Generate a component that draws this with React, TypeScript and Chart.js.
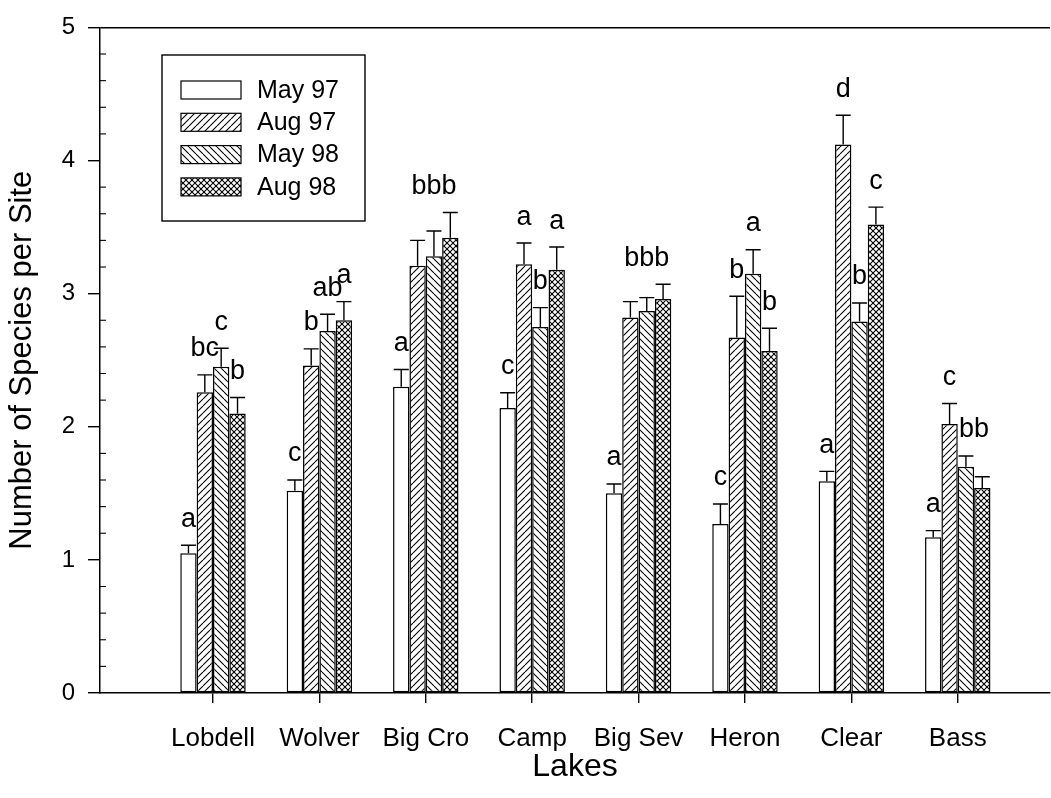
import React, { useEffect, useRef } from 'react';
import { Chart, registerables } from 'chart.js';

Chart.register(...registerables);

// ---------- data ----------
const lakes = ['Lobdell', 'Wolver', 'Big Cro', 'Camp', 'Big Sev', 'Heron', 'Clear', 'Bass'];
const seriesNames = ['May 97', 'Aug 97', 'May 98', 'Aug 98'];

const may97 = [1.05, 1.52, 2.30, 2.14, 1.50, 1.27, 1.59, 1.17];
const aug97 = [2.26, 2.46, 3.21, 3.22, 2.82, 2.67, 4.12, 2.02];
const may98 = [2.45, 2.72, 3.28, 2.75, 2.87, 3.15, 2.79, 1.70];
const aug98 = [2.10, 2.80, 3.42, 3.18, 2.96, 2.57, 3.52, 1.54];

const may97Err = [0.06, 0.08, 0.13, 0.115, 0.07, 0.15, 0.075, 0.05];
const aug97Err = [0.13, 0.125, 0.19, 0.16, 0.12, 0.31, 0.22, 0.155];
const may98Err = [0.14, 0.125, 0.19, 0.145, 0.10, 0.18, 0.14, 0.08];
const aug98Err = [0.12, 0.14, 0.19, 0.17, 0.11, 0.17, 0.13, 0.085];

const yTickValues = [0, 1, 2, 3, 4, 5];

// significance letters: lake index, first/last series index covered, text
const sigLetters = [
  { lake: 0, from: 0, to: 0, text: 'a' },
  { lake: 0, from: 1, to: 1, text: 'bc' },
  { lake: 0, from: 2, to: 2, text: 'c' },
  { lake: 0, from: 3, to: 3, text: 'b' },
  { lake: 1, from: 0, to: 0, text: 'c' },
  { lake: 1, from: 1, to: 1, text: 'b' },
  { lake: 1, from: 2, to: 2, text: 'ab' },
  { lake: 1, from: 3, to: 3, text: 'a' },
  { lake: 2, from: 0, to: 0, text: 'a' },
  { lake: 2, from: 1, to: 3, text: 'bbb' },
  { lake: 3, from: 0, to: 0, text: 'c' },
  { lake: 3, from: 1, to: 1, text: 'a' },
  { lake: 3, from: 2, to: 2, text: 'b' },
  { lake: 3, from: 3, to: 3, text: 'a' },
  { lake: 4, from: 0, to: 0, text: 'a' },
  { lake: 4, from: 1, to: 3, text: 'bbb' },
  { lake: 5, from: 0, to: 0, text: 'c' },
  { lake: 5, from: 1, to: 1, text: 'b' },
  { lake: 5, from: 2, to: 2, text: 'a' },
  { lake: 5, from: 3, to: 3, text: 'b' },
  { lake: 6, from: 0, to: 0, text: 'a' },
  { lake: 6, from: 1, to: 1, text: 'd' },
  { lake: 6, from: 2, to: 2, text: 'b' },
  { lake: 6, from: 3, to: 3, text: 'c' },
  { lake: 7, from: 0, to: 0, text: 'a' },
  { lake: 7, from: 1, to: 1, text: 'c' },
  { lake: 7, from: 2, to: 3, text: 'bb' },
];

const seriesValues = [may97, aug97, may98, aug98];
const seriesErrors = [may97Err, aug97Err, may98Err, aug98Err];
const fills = ['none', 'fwd', 'back', 'cross'];

const FONT = '"Liberation Sans", Arial, Helvetica, sans-serif';

function makeFill(kind: string): any {
  if (kind === 'none') return '#ffffff';
  const s = kind === 'cross' ? 6 : 7;
  const c = document.createElement('canvas');
  c.width = s;
  c.height = s;
  const g = c.getContext('2d')!;
  g.fillStyle = '#ffffff';
  g.fillRect(0, 0, s, s);
  g.strokeStyle = '#000000';
  g.lineWidth = 1.1;
  const fwd = () => {
    for (const k of [-s, 0, s]) {
      g.beginPath();
      g.moveTo(k, s);
      g.lineTo(k + s, 0);
      g.stroke();
    }
  };
  const back = () => {
    for (const k of [-s, 0, s]) {
      g.beginPath();
      g.moveTo(k, 0);
      g.lineTo(k + s, s);
      g.stroke();
    }
  };
  if (kind === 'fwd') fwd();
  if (kind === 'back') back();
  if (kind === 'cross') {
    fwd();
    back();
  }
  return g.createPattern(c, 'repeat');
}

const overlayPlugin = {
  id: 'overlay',
  afterDatasetsDraw(chart: any) {
    const ctx = chart.ctx as CanvasRenderingContext2D;
    const yScale = chart.scales.y;
    const area = chart.chartArea;
    ctx.save();
    ctx.strokeStyle = '#000';
    ctx.lineWidth = 1.4;

    // error bars (upper only)
    const caps: number[][] = [];
    chart.data.datasets.forEach((_ds: any, di: number) => {
      const meta = chart.getDatasetMeta(di);
      caps[di] = [];
      meta.data.forEach((bar: any, i: number) => {
        const top = yScale.getPixelForValue(seriesValues[di][i] + seriesErrors[di][i]);
        caps[di][i] = top;
        const half = 7.5;
        ctx.beginPath();
        ctx.moveTo(bar.x, bar.y);
        ctx.lineTo(bar.x, top);
        ctx.moveTo(bar.x - half, top);
        ctx.lineTo(bar.x + half, top);
        ctx.stroke();
      });
    });

    // significance letters
    ctx.fillStyle = '#000';
    ctx.font = `27px ${FONT}`;
    ctx.textAlign = 'center';
    ctx.textBaseline = 'middle';
    sigLetters.forEach((m) => {
      let sx = 0;
      let top = Infinity;
      for (let d = m.from; d <= m.to; d++) {
        const bar = chart.getDatasetMeta(d).data[m.lake];
        sx += bar.x;
        top = Math.min(top, caps[d][m.lake]);
      }
      ctx.fillText(m.text, sx / (m.to - m.from + 1), top - 26);
    });

    // minor ticks on the y axis (inside)
    ctx.lineWidth = 1.1;
    for (let k = 0; k < yTickValues.length - 1; k++) {
      for (let j = 1; j < 5; j++) {
        const py = yScale.getPixelForValue(yTickValues[k] + j * 0.2);
        ctx.beginPath();
        ctx.moveTo(area.left, py);
        ctx.lineTo(area.left + 6, py);
        ctx.stroke();
      }
    }

    // legend box
    const bx = 162, by = 55, bw = 203, bh = 166;
    ctx.lineWidth = 1.4;
    ctx.strokeRect(bx, by, bw, bh);
    ctx.font = `25px ${FONT}`;
    ctx.textAlign = 'left';
    ctx.textBaseline = 'middle';
    chart.data.datasets.forEach((ds: any, di: number) => {
      const cy = 90 + di * 32.3;
      ctx.fillStyle = ds.backgroundColor;
      ctx.fillRect(181, cy - 9, 60, 18);
      ctx.lineWidth = 1.2;
      ctx.strokeRect(181, cy - 9, 60, 18);
      ctx.fillStyle = '#000';
      ctx.fillText(ds.label, 257, cy + 1);
    });
    ctx.restore();
  },
};

export default function App() {
  const ref = useRef<HTMLCanvasElement | null>(null);

  useEffect(() => {
    document.body.style.margin = '0';
    const canvas = ref.current!;
    const patterns = fills.map(makeFill);
    const chart = new Chart(canvas, {
      type: 'bar',
      data: {
        datasets: seriesNames.map((name, di) => ({
          label: name,
          data: lakes.map((_, i) => ({ x: i, y: seriesValues[di][i] })),
          backgroundColor: patterns[di],
          borderColor: '#000',
          borderWidth: 1.5,
          borderSkipped: false,
          categoryPercentage: 0.615,
          barPercentage: 1,
        })),
      },
      options: {
        animation: false,
        responsive: false,
        events: [],
        layout: { padding: { top: 20, right: 1, left: 0, bottom: 0 } },
        plugins: {
          legend: { display: false },
          tooltip: { enabled: false },
        },
        scales: {
          x: {
            type: 'linear',
            min: -1.062,
            max: 7.867,
            offset: false,
            afterBuildTicks: (axis: any) => {
              axis.ticks = lakes.map((_, i) => ({ value: i }));
            },
            afterFit: (axis: any) => {
              axis.height = 105;
            },
            ticks: {
              callback: (v: any) => lakes[v as number] ?? '',
              font: { family: FONT, size: 26 },
              color: '#000',
              padding: 20,
              maxRotation: 0,
              autoSkip: false,
            },
            grid: {
              drawOnChartArea: false,
              offset: false,
              tickLength: 10,
              tickColor: '#000',
              lineWidth: 1.4,
            },
            border: { display: true, color: '#000', width: 1.5 },
            title: {
              display: true,
              text: 'Lakes',
              color: '#000',
              font: { family: FONT, size: 32 },
              padding: { top: 0, bottom: 12 },
            },
          },
          y: {
            min: 0,
            max: 5,
            afterBuildTicks: (axis: any) => {
              axis.ticks = yTickValues.map((v) => ({ value: v }));
            },
            afterFit: (axis: any) => {
              axis.width = 100;
            },
            ticks: {
              font: { family: FONT, size: 24 },
              color: '#000',
              padding: 13,
            },
            grid: {
              color: (c: any) => (c.tick && c.tick.value === 5 ? '#000' : 'rgba(0,0,0,0)'),
              tickColor: '#000',
              tickLength: 12,
              lineWidth: 1.4,
            },
            border: { display: true, color: '#000', width: 1.5 },
            title: {
              display: true,
              text: 'Number of Species per Site',
              color: '#000',
              font: { family: FONT, size: 31 },
              padding: { top: 4, bottom: 0 },
            },
          },
        },
      },
      plugins: [overlayPlugin],
    } as any);
    return () => chart.destroy();
  }, []);

  return (
    <div style={{ width: 1051, height: 798, background: '#fff' }}>
      <canvas ref={ref} width={1051} height={798} style={{ display: 'block' }} />
    </div>
  );
}
